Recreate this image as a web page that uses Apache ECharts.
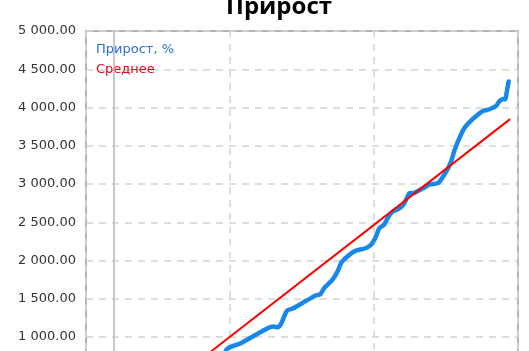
<!DOCTYPE html>
<html><head><meta charset="utf-8">
<script src="https://cdn.jsdelivr.net/npm/echarts@6/dist/echarts.min.js"></script>
<style>html,body{margin:0;padding:0;background:#fff;overflow:hidden}#c{width:529px;height:420px}</style>
</head><body><div id="c"></div>
<script>
const titleText = 'Прирост';
const seriesNames = ['Прирост, %', 'Среднее'];
const yTicks = [0, 500, 1000, 1500, 2000, 2500, 3000, 3500, 4000, 4500, 5000];
const growthX = [97.0, 98.6, 104.4, 106.7, 125.2, 129.8, 133.2, 135.6, 139.5, 143.6, 152.9, 159.8, 162.6, 165.6, 171.3, 174.8, 177.2, 181.7, 186.4, 189.8, 194.5, 197.9, 200.9, 203.7, 207.2, 209.4, 212.9, 217.6, 221.0, 224.5, 228.0, 233.7, 238.3, 243.0, 245.3, 249.9, 253.4, 255.9, 259.5, 263.0, 266.5, 271.0, 275.6, 280.2, 284.8, 287.2, 290.2, 291.1, 292.5, 293.5];
const growthY = [820, 855, 898, 911, 1105, 1136, 1127, 1179, 1343, 1373, 1473, 1545, 1558, 1645, 1753, 1861, 1969, 2056, 2120, 2141, 2163, 2206, 2293, 2422, 2474, 2552, 2639, 2681, 2746, 2876, 2884, 2940, 2992, 3005, 3027, 3156, 3286, 3440, 3610, 3739, 3813, 3890, 3955, 3977, 4020, 4085, 4115, 4106, 4236, 4339];
const avgX = [85.0, 294.5];
const avgY = [784, 3848];
const zeroLineX = 19.4;

const fmt = v => {
  const s = Math.abs(v).toFixed(2).split('.');
  const int = s[0].replace(/\B(?=(\d{3})+(?!\d))/g, ' ');
  return (v < 0 ? '-' : '') + int + '.' + s[1];
};

const chart = echarts.init(document.getElementById('c'), null, {renderer: 'canvas'});
chart.setOption({
  animation: false,
  backgroundColor: '#fff',
  title: {
    text: titleText, left: 221, top: -10,
    textStyle: {fontFamily: 'Open Sans', fontWeight: 'bold', fontSize: 24, color: '#000'}
  },
  legend: {
    orient: 'vertical', left: 91, top: 38, itemGap: 7,
    itemWidth: 0, itemHeight: 0, icon: 'rect',
    textStyle: {fontFamily: 'DejaVu Sans', fontSize: 13, padding: [0, 0, 0, -5]},
    data: [
      {name: seriesNames[0], textStyle: {color: '#2a72d0'}},
      {name: seriesNames[1], textStyle: {color: '#e8001c'}}
    ]
  },
  grid: {left: 86, right: 11, top: 31, bottom: 3, show: true, borderColor: '#b4b4b4', borderWidth: 2},
  xAxis: {
    type: 'value', min: 0, max: 300, interval: 100,
    axisLine: {show: false}, axisTick: {show: false}, axisLabel: {show: false},
    splitLine: {show: true, lineStyle: {type: [7, 6], color: '#d4d4d4', width: 1.5}}
  },
  yAxis: {
    type: 'value', min: yTicks[0], max: yTicks[yTicks.length - 1], interval: yTicks[1] - yTicks[0],
    axisLine: {show: false}, axisTick: {show: false},
    axisLabel: {formatter: fmt, margin: 10, color: '#333', fontFamily: 'DejaVu Sans', fontSize: 13},
    splitLine: {show: true, lineStyle: {type: [7, 6], color: '#d4d4d4', width: 1.5}}
  },
  series: [
    {
      name: seriesNames[0], type: 'line', showSymbol: false, smooth: 0.2,
      data: growthX.map((x, i) => [x, growthY[i]]),
      lineStyle: {color: '#1787ea', width: 4.5, cap: 'round', join: 'round'},
      itemStyle: {color: '#1787ea'},
      markLine: {
        silent: true, symbol: 'none', label: {show: false},
        lineStyle: {type: 'solid', color: '#b4b4b4', width: 1.5},
        data: [{xAxis: zeroLineX}]
      },
      z: 3
    },
    {
      name: seriesNames[1], type: 'line', showSymbol: false,
      data: avgX.map((x, i) => [x, avgY[i]]),
      lineStyle: {color: '#ff0000', width: 2},
      itemStyle: {color: '#ff0000'},
      z: 4
    }
  ]
});
</script></body></html>
